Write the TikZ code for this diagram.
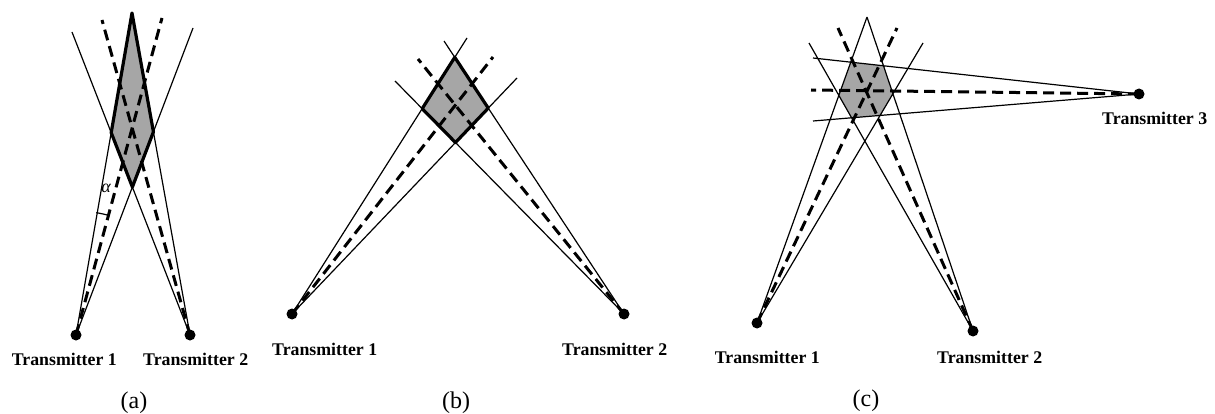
\documentclass[tikz,border=0pt]{standalone}
\usepackage{fontspec}
\setmainfont{Liberation Serif}
\begin{document}
\begin{tikzpicture}[x=1pt,y=-1pt,
  beam/.style={line width=1.2pt},
  axisline/.style={line width=3pt, dash pattern=on 11pt off 6pt},
  zone/.style={fill=black!35},
  zoneedge/.style={line width=3.2pt, line join=round},
  tx/.style={circle, fill=black, inner sep=0pt, minimum size=11pt},
  txlabel/.style={inner sep=0pt, font=\bfseries\fontsize{17.8}{20}\selectfont},
  caption/.style={inner sep=0pt, font=\fontsize{24}{28}\selectfont}]
\useasboundingbox (0,0) rectangle (1215,414);

% ---------------- (a) two narrow beams, nearly parallel ----------------
\coordinate (pa1) at (76,335);
\coordinate (pa2) at (190,335);
\coordinate (aTop) at (132,13);
\coordinate (a1R) at (193,28);
\coordinate (a2L) at (72,32);
\coordinate (a1M) at (162,18);
\coordinate (a2M) at (102,20);
\coordinate (aLeft)  at (intersection of pa1--aTop and pa2--a2L);
\coordinate (aRight) at (intersection of pa1--a1R and pa2--aTop);
\coordinate (aBot)   at (intersection of pa1--a1R and pa2--a2L);
\fill[zone] (aTop) -- (aRight) -- (aBot) -- (aLeft) -- cycle;
\draw[beam] (pa1) -- (aTop) (pa1) -- (a1R) (pa2) -- (aTop) (pa2) -- (a2L);
\draw[axisline] (pa1) -- (a1M) (pa2) -- (a2M);
\draw[zoneedge] (aTop) -- (aRight) -- (aBot) -- (aLeft) -- cycle;
\draw[beam] ([shift={(-80.6:124)}]pa1) arc[start angle=-80.6, end angle=-74.5, radius=124];
\node[font=\itshape\fontsize{18}{20}\selectfont, inner sep=0pt] (alpha) at (106,188) {α};
\node[tx] (a1) at (pa1) {};
\node[tx] (a2) at (pa2) {};
\node[txlabel, anchor=base east] (la1) at (117,365) {Transmitter 1};
\node[txlabel, anchor=base west] (la2) at (143,365) {Transmitter 2};
\node[caption, anchor=base] (capa) at (134,408) {(a)};

% ---------------- (b) two beams crossing at a wide angle ----------------
\coordinate (pb1) at (292,314);
\coordinate (pb2) at (624,314);
\coordinate (b1L) at (467,38);
\coordinate (b1R) at (517,78);
\coordinate (b2R) at (444,41);
\coordinate (b2L) at (395,81);
\coordinate (b1M) at (493,57);
\coordinate (b2M) at (418,59);
\coordinate (bTop)   at (intersection of pb1--b1L and pb2--b2R);
\coordinate (bLeft)  at (intersection of pb1--b1L and pb2--b2L);
\coordinate (bRight) at (intersection of pb1--b1R and pb2--b2R);
\coordinate (bBot)   at (intersection of pb1--b1R and pb2--b2L);
\fill[zone] (bTop) -- (bRight) -- (bBot) -- (bLeft) -- cycle;
\draw[beam] (pb1) -- (b1L) (pb1) -- (b1R) (pb2) -- (b2R) (pb2) -- (b2L);
\draw[axisline] (pb1) -- (b1M) (pb2) -- (b2M);
\draw[zoneedge] (bTop) -- (bRight) -- (bBot) -- (bLeft) -- cycle;
\node[tx] (b1) at (pb1) {};
\node[tx] (b2) at (pb2) {};
\node[txlabel, anchor=base west] (lb1) at (272,355) {Transmitter 1};
\node[txlabel, anchor=base west] (lb2) at (562,355) {Transmitter 2};
\node[caption, anchor=base] (capb) at (456,408) {(b)};

% ---------------- (c) three beams ----------------
\coordinate (pc1) at (757,323);
\coordinate (pc2) at (973,331);
\coordinate (pc3) at (1139,94);
\coordinate (cApex) at (867,17);
\coordinate (c1R) at (923,43);
\coordinate (c2L) at (809,43);
\coordinate (c3U) at (813,58);
\coordinate (c3D) at (813,121);
\coordinate (c1M) at (897,28);
\coordinate (c2M) at (838,28);
\coordinate (c3M) at (811,90);
\coordinate (h1) at (intersection of pc1--cApex and pc2--c2L);
\coordinate (h2) at (intersection of pc1--cApex and pc3--c3U);
\coordinate (h3) at (intersection of pc2--cApex and pc3--c3U);
\coordinate (h4) at (intersection of pc2--cApex and pc1--c1R);
\coordinate (h5) at (intersection of pc1--c1R and pc3--c3D);
\coordinate (h6) at (intersection of pc2--c2L and pc3--c3D);
\fill[zone] (h1) -- (h2) -- (h3) -- (h4) -- (h5) -- (h6) -- cycle;
\draw[beam] (pc1) -- (cApex) (pc1) -- (c1R) (pc2) -- (cApex) (pc2) -- (c2L)
            (pc3) -- (c3U) (pc3) -- (c3D);
\draw[axisline] (pc1) -- (c1M) (pc2) -- (c2M) (pc3) -- (c3M);
\node[tx] (c1) at (pc1) {};
\node[tx] (c2) at (pc2) {};
\node[tx] (c3) at (pc3) {};
\node[txlabel, anchor=base east] (lc1) at (820,363) {Transmitter 1};
\node[txlabel, anchor=base west] (lc2) at (937,363) {Transmitter 2};
\node[txlabel, anchor=base west] (lc3) at (1102,125) {Transmitter 3};
\node[caption, anchor=base] (capc) at (866,406) {(c)};
\end{tikzpicture}
\end{document}
